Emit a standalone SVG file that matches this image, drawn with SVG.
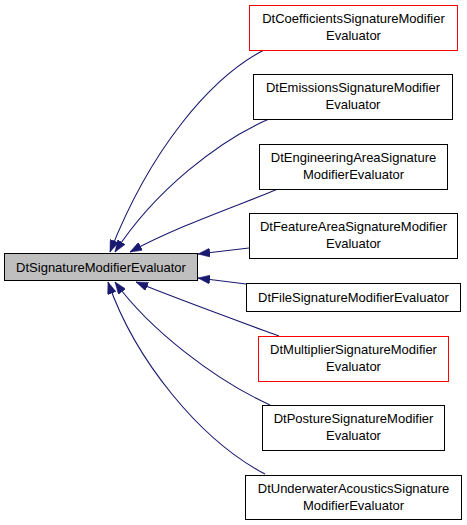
<svg xmlns="http://www.w3.org/2000/svg" width="467" height="525" viewBox="0 0 467 525">
<style>
  .node rect { fill: #ffffff; stroke: #000000; stroke-width: 1; }
  .node.red rect { stroke: #ff0000; }
  .node.main rect { fill: #bfbfbf; }
  text { font-family: "Liberation Sans", Arial, Helvetica, sans-serif; font-size: 13px; fill: #000000; text-anchor: middle; }
  .edge { fill: none; stroke: #191970; stroke-width: 1.1; marker-end: url(#arrow); }
</style>
<defs>
  <marker id="arrow" viewBox="0 0 12 9" refX="12" refY="4.5" markerWidth="12" markerHeight="9" markerUnits="userSpaceOnUse" orient="auto">
    <path d="M0,0 L12,4.5 L0,9 z" fill="#191970" stroke="#191970" stroke-width="0.5"/>
  </marker>
</defs>
<rect x="0" y="0" width="467" height="525" fill="#ffffff"/>
<g id="connectors">
  <path class="edge" d="M264,50 C210,78 150,150 110,252"/>
  <path class="edge" d="M269,119 C220,140 155,190 115,252"/>
  <path class="edge" d="M278,189 C240,205 180,225 130,252"/>
  <path class="edge" d="M249,248 L198,254"/>
  <path class="edge" d="M246,284 L198,278"/>
  <path class="edge" d="M279,336 C230,318 175,298 136,282"/>
  <path class="edge" d="M270,405 C215,380 150,330 115,282"/>
  <path class="edge" d="M265,474 C200,440 135,360 108,282"/>
</g>
<g id="DtSignatureModifierEvaluator" class="node main">
  <rect x="4.5" y="253.5" width="193" height="27"/>
  <text x="101" y="272">DtSignatureModifierEvaluator</text>
</g>
<g id="DtCoefficientsSignatureModifierEvaluator" class="node red">
  <rect x="249.5" y="5.5" width="208" height="45"/>
  <text x="353.5" y="23">DtCoefficientsSignatureModifier</text>
  <text x="353.5" y="40">Evaluator</text>
</g>
<g id="DtEmissionsSignatureModifierEvaluator" class="node">
  <rect x="253.5" y="74.5" width="199" height="45"/>
  <text x="353" y="92">DtEmissionsSignatureModifier</text>
  <text x="353" y="109">Evaluator</text>
</g>
<g id="DtEngineeringAreaSignatureModifierEvaluator" class="node">
  <rect x="259.5" y="144.5" width="188" height="45"/>
  <text x="353.5" y="162">DtEngineeringAreaSignature</text>
  <text x="353.5" y="179">ModifierEvaluator</text>
</g>
<g id="DtFeatureAreaSignatureModifierEvaluator" class="node">
  <rect x="249.5" y="213.5" width="208" height="45"/>
  <text x="353.5" y="231">DtFeatureAreaSignatureModifier</text>
  <text x="353.5" y="248">Evaluator</text>
</g>
<g id="DtFileSignatureModifierEvaluator" class="node">
  <rect x="246.5" y="283.5" width="214" height="28"/>
  <text x="353.5" y="302">DtFileSignatureModifierEvaluator</text>
</g>
<g id="DtMultiplierSignatureModifierEvaluator" class="node red">
  <rect x="258.5" y="336.5" width="190" height="45"/>
  <text x="353.5" y="354">DtMultiplierSignatureModifier</text>
  <text x="353.5" y="371">Evaluator</text>
</g>
<g id="DtPostureSignatureModifierEvaluator" class="node">
  <rect x="262.5" y="405.5" width="182" height="45"/>
  <text x="353.5" y="423">DtPostureSignatureModifier</text>
  <text x="353.5" y="440">Evaluator</text>
</g>
<g id="DtUnderwaterAcousticsSignatureModifierEvaluator" class="node">
  <rect x="245.5" y="475.5" width="216" height="44"/>
  <text x="353.5" y="493">DtUnderwaterAcousticsSignature</text>
  <text x="353.5" y="510">ModifierEvaluator</text>
</g>
</svg>
